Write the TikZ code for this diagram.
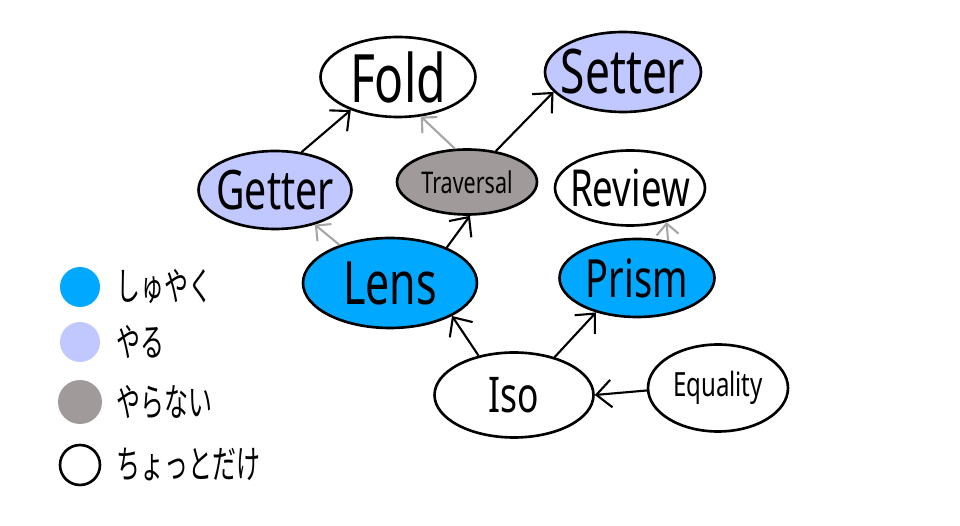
\documentclass[tikz,border=0pt]{standalone}
\usepackage{fontspec}
\newfontfamily\hand[FakeStretch=0.72]{Noto Sans}
\newfontfamily\jphand[FakeStretch=0.62]{Noto Sans CJK JP}
\usetikzlibrary{shapes.geometric,arrows.meta}
\definecolor{shuyaku}{HTML}{00A8FF}
\definecolor{yaru}{HTML}{C0C8FF}
\definecolor{yaranai}{HTML}{A09A9A}
\tikzset{
	optic/.style={ellipse,draw,line width=1.5pt,inner xsep=-1cm,inner ysep=-0.5cm},
	dep/.style={->,line width=1.2pt},
	weak/.style={-{Straight Barb[length=2.2mm,width=4.4mm]},line width=1.2pt,color=gray!70},
	legdot/.style={circle,minimum size=0.8cm,inner sep=0pt},
	legtext/.style={anchor=west,font=\jphand\fontsize{22}{24}\selectfont},
}
\newcommand{\handsz}[1]{\hand\fontsize{#1}{#1}\selectfont}
\begin{document}
\begin{tikzpicture}[>={Straight Barb[length=3mm,width=5.5mm]},x=0.02cm,y=-0.02cm]
			\useasboundingbox (0,0) rectangle (960,526);
			% optics
			\node[optic,minimum width=3.1cm,minimum height=1.6cm,font=\handsz{38}] (fold) at (398,77) {Fold};
			\node[optic,fill=yaru,minimum width=3.12cm,minimum height=1.6cm,font=\handsz{35}] (setter) at (623,72) {Setter};
			\node[optic,fill=yaru,minimum width=3.06cm,minimum height=1.56cm,font=\handsz{31}] (getter) at (275,190) {Getter};
			\node[optic,fill=yaranai,minimum width=2.8cm,minimum height=1.3cm,font=\handsz{17}] (traversal) at (467,182) {Traversal};
			\node[optic,minimum width=3.0cm,minimum height=1.5cm,font=\handsz{29}] (review) at (630,188) {Review};
			\node[optic,fill=shuyaku,minimum width=3.48cm,minimum height=1.8cm,font=\handsz{34}] (lens) at (390,283) {Lens};
			\node[optic,fill=shuyaku,minimum width=3.1cm,minimum height=1.56cm,font=\handsz{30}] (prism) at (637,278) {Prism};
			\node[optic,minimum width=3.18cm,minimum height=1.7cm,font=\handsz{28}] (iso) at (514,395) {Iso};
			\node[optic,minimum width=2.8cm,minimum height=1.74cm,font=\handsz{19}] (equality) at (718,388) {Equality};
			% arrows
			\draw[dep] (getter.55) -- (fold.215);
			\draw[weak] (traversal.110) -- (fold.300);
			\draw[dep] (traversal.47) -- (setter.196);
			\draw[weak] (lens.143) -- (getter.319);
			\draw[dep] (lens.32) -- (traversal.275);
			\draw[weak] (prism.50) -- (review.317);
			\draw[dep] (iso.132) -- (lens.332);
			\draw[dep] (iso.43) -- (prism.220);
			\draw[dep] (equality.182) -- (iso.0);
			% legend
			\node[legdot,fill=shuyaku] (dot1) at (80,287) {};
			\node[legdot,fill=yaru] (dot2) at (80,342) {};
			\node[legdot,fill=yaranai,minimum size=0.88cm] (dot3) at (80,402) {};
			\node[legdot,draw,line width=1.5pt] (dot4) at (80,465) {};
			\node[legtext] (leg1) at (110,287) {しゅやく};
			\node[legtext] (leg2) at (110,342) {やる};
			\node[legtext] (leg3) at (110,402) {やらない};
			\node[legtext] (leg4) at (110,465) {ちょっとだけ};
	\end{tikzpicture}
\end{document}
